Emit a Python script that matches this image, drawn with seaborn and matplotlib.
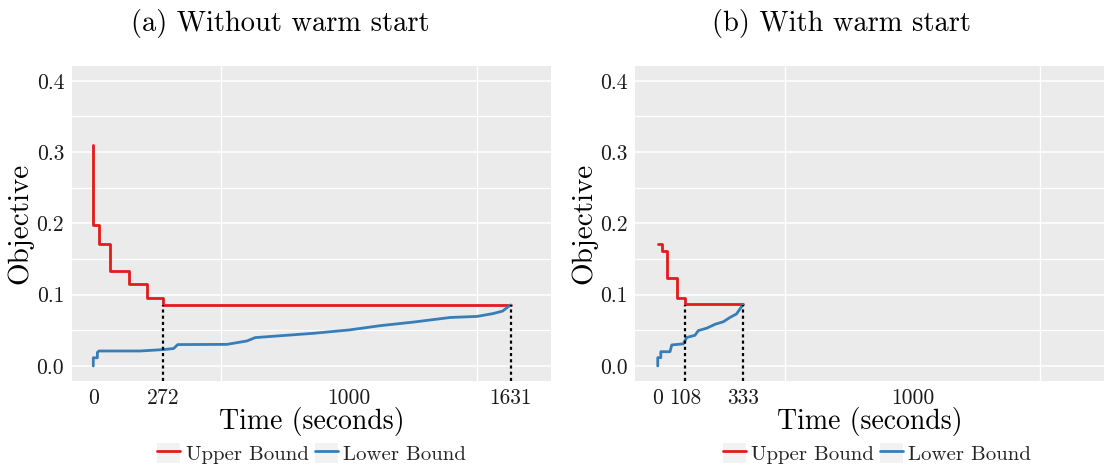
import matplotlib
matplotlib.use("Agg")
import matplotlib.pyplot as plt
from matplotlib.lines import Line2D
from matplotlib.patches import Patch
from matplotlib.legend_handler import HandlerTuple
import seaborn as sns
import pandas as pd

# ---------------- data ----------------
# (a) Without warm start
a_upper_t = [0, 0.5, 24, 66, 139, 208, 272, 1631]
a_upper_v = [0.310, 0.198, 0.171, 0.133, 0.115, 0.096, 0.086, 0.086]
a_lower_t = [0, 0, 16, 16, 22, 183, 275, 314, 330, 522, 600, 633, 860, 1000,
             1121, 1250, 1395, 1500, 1563, 1600, 1631]
a_lower_v = [0.000, 0.0115, 0.0115, 0.019, 0.021, 0.021, 0.023, 0.0245, 0.030,
             0.0303, 0.035, 0.0398, 0.0458, 0.0505, 0.0565, 0.0615, 0.068,
             0.0695, 0.0735, 0.077, 0.0856]
a_marks = [272, 1631]
a_ticks = [0, 272, 1000, 1631]

# (b) With warm start
b_upper_t = [0, 16, 35, 77, 108, 333]
b_upper_v = [0.171, 0.1615, 0.124, 0.096, 0.0866, 0.0866]
b_lower_t = [0, 0, 12, 12, 48, 55, 100, 114, 146, 159, 192, 225, 257, 283, 309,
             329, 333]
b_lower_v = [0.000, 0.0117, 0.0117, 0.020, 0.020, 0.0295, 0.031, 0.040, 0.043,
             0.0496, 0.053, 0.0585, 0.062, 0.068, 0.073, 0.0834, 0.0856]
b_marks = [108, 333]
b_ticks = [0, 108, 333, 1000]

bound_value = 0.086
titles = ["(a) Without warm start", "(b) With warm start"]
series_names = ["Upper Bound", "Lower Bound"]
grid_x = [0, 500, 1000, 1500]
y_major = [0.0, 0.1, 0.2, 0.3, 0.4]
y_minor = [0.05, 0.15, 0.25, 0.35]

RED = "#E41A1C"
BLUE = "#377EB8"

# ---------------- style ----------------
sns.set_theme(style="darkgrid")
plt.rcParams.update({
    "font.family": ["cmr10", "DejaVu Serif"],
    "axes.formatter.use_mathtext": True,
    "mathtext.fontset": "cm",
    "axes.unicode_minus": False,
})

fig = plt.figure(figsize=(11.04, 4.66), dpi=100)
ax_a = fig.add_axes([71.8 / 1104, 85.2 / 466, (551 - 71.8) / 1104, 314.8 / 466])
ax_b = fig.add_axes([635.3 / 1104, 85.2 / 466, (1104 - 635.3) / 1104, 314.8 / 466])

panels = [
    (ax_a, a_upper_t, a_upper_v, a_lower_t, a_lower_v, a_marks, a_ticks, (-84, 1789)),
    (ax_b, b_upper_t, b_upper_v, b_lower_t, b_lower_v, b_marks, b_ticks, (-88, 1750)),
]
title_cx = [280 / 1104, 842 / 1104]
legend_cx = [311.5 / 1104, 877 / 1104]

for i, (ax, ut, uv, lt, lv, marks, ticks, xl) in enumerate(panels):
    ax.set_facecolor("#EBEBEB")
    up = pd.DataFrame({"t": ut, "v": uv})
    lo = pd.DataFrame({"t": lt, "v": lv})
    sns.lineplot(data=up, x="t", y="v", ax=ax, color=RED, lw=2.0,
                 drawstyle="steps-post", estimator=None, sort=False, zorder=3)
    sns.lineplot(data=lo, x="t", y="v", ax=ax, color=BLUE, lw=2.0,
                 estimator=None, sort=False, zorder=3)
    ax.vlines(marks, -0.0208, bound_value, colors="black", lw=1.6,
              linestyles=(0, (1.4, 1.4)), zorder=4)
    ax.set_xlim(*xl)
    ax.set_ylim(-0.0208, 0.4207)

    ax.set_xticks(ticks)
    ax.set_xticklabels([str(t) for t in ticks])
    ax.set_xticks(grid_x, minor=True)
    ax.set_yticks(y_major)
    ax.set_yticklabels([f"{v:.1f}" for v in y_major])
    ax.set_yticks(y_minor, minor=True)

    ax.grid(False)
    ax.grid(True, axis="x", which="minor", color="white", lw=1.0)
    ax.grid(True, axis="y", which="major", color="white", lw=1.1)
    ax.grid(True, axis="y", which="minor", color="white", lw=0.9)
    ax.tick_params(axis="both", which="major", length=3.5, width=0.9,
                   color="#333333", labelsize=15.5, labelcolor="#1a1a1a",
                   pad=2)
    ax.tick_params(axis="both", which="minor", length=0)
    for s in ax.spines.values():
        s.set_visible(False)

    ax.set_xlabel("Time (seconds)", fontsize=20, labelpad=-1, color="black")
    ax.set_ylabel("Objective", fontsize=21, labelpad=2, color="black")
    fig.text(title_cx[i], 1 - 24 / 466, titles[i], fontsize=20.5,
             ha="center", va="center", color="black")

    handles = [
        (Patch(facecolor="#F2F2F2", edgecolor="none"), Line2D([], [], color=RED, lw=2)),
        (Patch(facecolor="#F2F2F2", edgecolor="none"), Line2D([], [], color=BLUE, lw=2)),
    ]
    fig.legend(handles, series_names, loc="center",
               bbox_to_anchor=(legend_cx[i], 0.027),
               ncol=2, frameon=False, fontsize=15, handlelength=1.1,
               handleheight=1.1, handletextpad=0.25, columnspacing=0.3,
               handler_map={tuple: HandlerTuple(ndivide=1, pad=0)},
               borderaxespad=0, borderpad=0)

fig.savefig("out.png", dpi=100)
